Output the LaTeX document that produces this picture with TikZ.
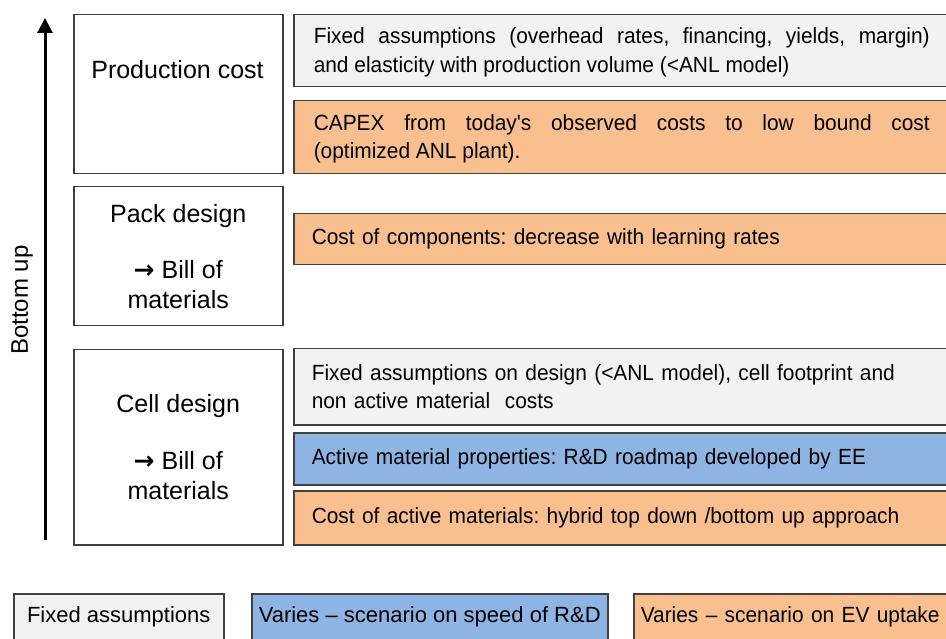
\documentclass[tikz,border=0pt]{standalone}
\usepackage{fontspec}
\setmainfont{Liberation Sans}
\newfontfamily\narrowfont{Liberation Sans}[FakeStretch=0.95]
\newfontfamily\arrowfont{DejaVu Sans}
\usetikzlibrary{arrows.meta}

\definecolor{fixgray}{HTML}{F2F2F2}
\definecolor{evorange}{HTML}{F9BF8F}
\definecolor{rdblue}{HTML}{8EB4E3}
\definecolor{edge}{HTML}{404040}

\newcommand{\billof}{{\arrowfont\bfseries →} Bill of}

\tikzset{
  box/.style={draw=edge, line width=1.5pt, anchor=north west, inner sep=0pt},
  stage/.style={box, fill=white, minimum width=209pt, align=center,
    font=\fontsize{25}{30}\selectfont},
  item/.style={box, inner xsep=20pt, text width=616pt,
    font=\narrowfont\fontsize{22}{28.5}\selectfont\frenchspacing},
  key/.style={box, inner xsep=7pt, inner ysep=13pt, text height=16pt, text depth=6pt,
    font=\fontsize{22}{26}\selectfont}
}

\begin{document}
\begin{tikzpicture}[x=1pt,y=-1pt]
\useasboundingbox (0,0) rectangle (946,639);

% bottom-up arrow
\coordinate (arrowfoot) at (45,540);
\coordinate (arrowtip) at (45,18);
\draw[line width=3pt, -{Triangle[length=15pt,width=15pt]}] (arrowfoot) -- (arrowtip);
\node[rotate=90, font=\fontsize{24}{28}\selectfont] (bottomup) at (22,300) {Bottom up};

% levels
\node[stage, minimum height=159pt] (prod) at (73,14) {};
\node[font=\fontsize{25}{30}\selectfont] (prodlabel) at (177.5,70) {Production cost};
\node[stage, minimum height=139pt] (pack) at (73,186)
  {Pack design\\[26pt]\billof\\materials};
\node[stage, minimum height=195pt] (cell) at (73,349)
  {Cell design\\[27pt]\billof\\materials};

% production cost
\node[item, fill=fixgray, minimum height=72pt, align=justify] (prodfix) at (293,14)
  {\rule{0pt}{19pt}Fixed assumptions (overhead rates, financing, yields, margin)\linebreak
   and elasticity with production volume (<ANL model)};
\node[item, fill=evorange, minimum height=73pt, align=justify] (prodcapex) at (293,100)
  {\rule{0pt}{19pt}CAPEX from today's observed costs to low bound cost\linebreak
   (optimized ANL plant).};

% pack design
\node[item, fill=evorange, minimum height=51pt, inner xsep=18pt, text width=618pt, align=left] (packcost) at (293,213)
  {Cost of components: decrease with learning rates};

% cell design
\node[item, fill=fixgray, minimum height=76pt, inner xsep=18pt, text width=618pt, align=left] (cellfix) at (293,348)
  {Fixed assumptions on design (<ANL model), cell footprint and\\
   non active material\ \ costs};
\node[item, fill=rdblue, minimum height=52pt, inner xsep=18pt, text width=618pt, align=left] (cellprop) at (293,432)
  {Active material properties: R\&D roadmap developed by EE};
\node[item, fill=evorange, minimum height=54pt, inner xsep=18pt, text width=618pt, align=left] (cellcost) at (293,490)
  {Cost of active materials: hybrid top down /bottom up approach};

% legend
\node[key, fill=fixgray, minimum width=210pt] (keyfixed) at (13,593) {Fixed assumptions};
\node[key, fill=rdblue, minimum width=355pt] (keyrd) at (251,593) {Varies – scenario on speed of R\&D};
\node[key, fill=evorange, text width=320pt, align=left, font=\narrowfont\fontsize{22}{26}\selectfont] (keyev) at (633,593) {Varies – scenario on EV uptake};
\end{tikzpicture}
\end{document}
